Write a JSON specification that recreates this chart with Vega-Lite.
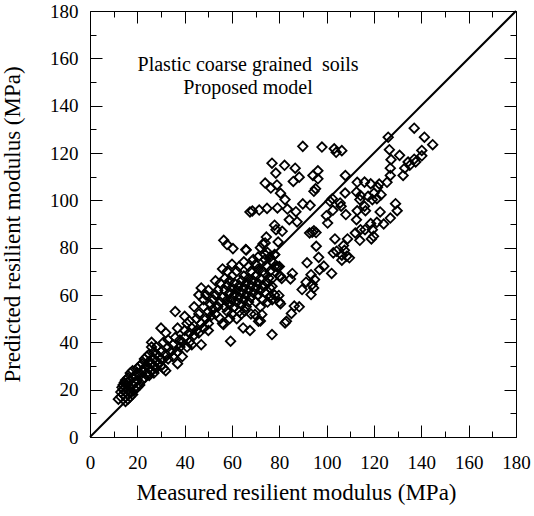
{
"$schema":"https://vega.github.io/schema/vega-lite/v6.json",
"width":426,"height":426,
"autosize":{"type":"none"},
"padding":{"left":90,"top":11,"right":18,"bottom":79},
"config":{"view":{"stroke":null},"font":"Liberation Serif",
"axis":{"grid":false,"domainColor":"black","domainWidth":1,"tickColor":"black","tickWidth":1,"labelColor":"black","titleColor":"black","labelFont":"Liberation Serif","titleFont":"Liberation Serif","labelFontSize":19,"titleFontSize":23,"titleFontWeight":"normal","labelFlush":false,"labelOverlap":false,"labelBound":false}},
"datasets":{
"pts":[
{"m":89.9,"p":122.8},{"m":98.0,"p":122.5},{"m":103.2,"p":121.8},{"m":104,"p":120.3},{"m":106.4,"p":121},{"m":76.9,"p":115.7},{"m":82.2,"p":114.8},{"m":86.7,"p":113.6},{"m":78.5,"p":111.5},{"m":88.4,"p":109.8},{"m":85.9,"p":108},{"m":94.2,"p":110.5},{"m":96.3,"p":112.5},{"m":96.3,"p":109.1},{"m":74,"p":107.3},{"m":76.4,"p":105.2},{"m":79,"p":106.5},{"m":80.5,"p":103},{"m":82.4,"p":100.3},{"m":94.6,"p":103.8},{"m":95.3,"p":104.9},{"m":89.9,"p":98.5},{"m":93,"p":97.9},{"m":107.9,"p":110.5},{"m":67.6,"p":95.1},{"m":68.6,"p":95.5},{"m":71.5,"p":95.9},{"m":74.8,"p":96.6},{"m":79.2,"p":96.8},{"m":83.4,"p":96.3},{"m":87,"p":95.2},{"m":84.2,"p":91.8},{"m":87.5,"p":90.9},{"m":78,"p":89.5},{"m":78.6,"p":87.6},{"m":81.2,"p":86.9},{"m":79.5,"p":82.4},{"m":74.5,"p":84.5},{"m":73.1,"p":81.6},{"m":56.5,"p":83.1},{"m":57.9,"p":81.3},{"m":60.4,"p":79.6},{"m":65.8,"p":79.2},{"m":74,"p":77.1},{"m":78,"p":77.1},
{"m":112.9,"p":107.6},{"m":116,"p":107.7},{"m":118.6,"p":107},{"m":126,"p":126.7},{"m":137,"p":130.5},{"m":141.3,"p":126.7},{"m":144.8,"p":123.5},{"m":126.5,"p":121.4},{"m":130.8,"p":119},{"m":140.2,"p":121.1},{"m":140.2,"p":118.8},{"m":137,"p":117.4},{"m":134.4,"p":116.2},{"m":135.1,"p":114.8},{"m":137.6,"p":116.2},{"m":133,"p":113.6},{"m":132.3,"p":110.5},{"m":127.2,"p":117.2},{"m":126.9,"p":113.6},{"m":126.9,"p":110.5},{"m":125.5,"p":107.6},{"m":122.2,"p":106.9},{"m":121.5,"p":105.5},{"m":120,"p":103.1},{"m":123,"p":102.4},{"m":121.2,"p":100.7},{"m":119.3,"p":100.3},{"m":117.5,"p":101.7},{"m":114.3,"p":102},{"m":112.6,"p":103.5},{"m":114,"p":100.3},{"m":107.8,"p":103.1},{"m":102.4,"p":100.7},{"m":101.4,"p":99.6},{"m":105.7,"p":98.9},{"m":102.6,"p":95.8},{"m":106.1,"p":97.5},{"m":108.1,"p":94},{"m":99.9,"p":93.5},{"m":100.4,"p":90.4},{"m":112.9,"p":95.6},{"m":112.6,"p":91.8},{"m":116.4,"p":95.6},{"m":116,"p":97.5},{"m":118.6,"p":90.2},{"m":121.2,"p":90.7},{"m":124.1,"p":90},{"m":122.6,"p":95.1},{"m":126.9,"p":92.5},{"m":129.1,"p":98.6},{"m":129.8,"p":95.6},{"m":119.3,"p":87.6},{"m":119.8,"p":84.8},{"m":118.9,"p":83.7},{"m":116.2,"p":87.6},{"m":114.3,"p":87.6},{"m":112.1,"p":86.2},{"m":114,"p":83.1},{"m":108.8,"p":83.7},{"m":103.5,"p":83.7},{"m":102.8,"p":77.8},{"m":104.2,"p":78.5},{"m":106.4,"p":76.8},{"m":107.5,"p":78.9},{"m":108.5,"p":76.4},{"m":109.6,"p":75.7},{"m":106.4,"p":74.7},{"m":107.1,"p":80.9},{"m":93.9,"p":86.5},{"m":92.8,"p":86.2},{"m":94.6,"p":87.1},{"m":95.5,"p":86.4},{"m":95.6,"p":80.6},{"m":96.6,"p":75.9},{"m":91.7,"p":73.6},{"m":98.8,"p":72.2},{"m":102.1,"p":69.1},{"m":97,"p":70.7},{"m":93.4,"p":68.6},{"m":94.9,"p":66.5},{"m":93.9,"p":64.4},{"m":91.3,"p":65.4},{"m":94.5,"p":63},{"m":93.4,"p":60.2},{"m":89.6,"p":62.3},{"m":88.4,"p":55},{"m":86.3,"p":55.3},{"m":85.1,"p":52.2},{"m":83,"p":48.9},{"m":82.4,"p":48.2},{"m":85.5,"p":69.1},{"m":84.7,"p":66.8},{"m":80.5,"p":67.9},{"m":79.4,"p":71.7},{"m":79.8,"p":59.8},{"m":80.5,"p":56.3},{"m":76.9,"p":43.3},{"m":76.2,"p":59.5},{"m":76.9,"p":63.7},{"m":75.5,"p":67.2},{"m":67.6,"p":45},{"m":64.7,"p":46.1},{"m":59.4,"p":40.5},{"m":56.4,"p":47.5},{"m":72.6,"p":51.8},{"m":71.2,"p":48.9},{"m":69.7,"p":51.8},{"m":65.4,"p":53.2},
{"m":12,"p":16},{"m":13,"p":17},{"m":13,"p":19},{"m":13.5,"p":21},{"m":14,"p":18},{"m":14,"p":20},{"m":14,"p":22},{"m":14.5,"p":23},{"m":15,"p":15},{"m":15,"p":17},{"m":15,"p":19},{"m":15,"p":21},{"m":15,"p":24},{"m":15.5,"p":22},{"m":16,"p":16},{"m":16,"p":18},{"m":16,"p":20},{"m":16,"p":23},{"m":16,"p":25},{"m":16.5,"p":19},{"m":17,"p":17},{"m":17,"p":21},{"m":17,"p":24},{"m":17,"p":27},{"m":17.5,"p":19},{"m":18,"p":18},{"m":18,"p":22},{"m":18,"p":25},{"m":18,"p":28},{"m":19,"p":20},{"m":19,"p":23},{"m":19,"p":26},{"m":20,"p":21},{"m":20,"p":24},{"m":20,"p":27},{"m":20,"p":29},
{"m":21,"p":22},{"m":21,"p":26},{"m":21,"p":30},{"m":22,"p":24},{"m":22,"p":28},{"m":22,"p":31},{"m":23,"p":25},{"m":23,"p":29},{"m":23,"p":33},{"m":24,"p":27},{"m":24,"p":30},{"m":24,"p":34},{"m":25,"p":26},{"m":25,"p":29},{"m":25,"p":32},{"m":25,"p":35},{"m":26,"p":28},{"m":26,"p":31},{"m":26,"p":38},{"m":26,"p":40},{"m":27,"p":27},{"m":27,"p":30},{"m":27,"p":33},{"m":27,"p":36},{"m":28,"p":29},{"m":28,"p":32},{"m":28,"p":35},{"m":28,"p":38},{"m":29,"p":31},{"m":29,"p":34},{"m":30,"p":30},{"m":30,"p":33},{"m":30,"p":36},{"m":30,"p":46},{"m":31,"p":29},{"m":31,"p":40},{"m":32,"p":28},{"m":32,"p":35},{"m":32,"p":44},{"m":33,"p":33},{"m":33,"p":38},{"m":33,"p":41},
{"m":34,"p":36},{"m":35,"p":34},{"m":35,"p":39},{"m":36,"p":42},{"m":36,"p":53},{"m":37,"p":31},{"m":37,"p":36},{"m":37,"p":46},{"m":38,"p":38},{"m":38,"p":41},{"m":39,"p":34},{"m":39,"p":40},{"m":40,"p":42},{"m":40,"p":51},{"m":40,"p":45},{"m":41,"p":38},{"m":41,"p":48},{"m":42,"p":40},{"m":42,"p":44},{"m":42,"p":49},{"m":43,"p":39},{"m":43,"p":46},{"m":44,"p":43},{"m":44,"p":55},{"m":45,"p":45},{"m":45,"p":50},{"m":46,"p":44},{"m":46,"p":52},{"m":46,"p":60},{"m":47,"p":39},{"m":47,"p":48},{"m":47,"p":63},{"m":48,"p":46},{"m":48,"p":55},{"m":48,"p":58},{"m":49,"p":50},{"m":49,"p":60},{"m":50,"p":48},{"m":50,"p":53},{"m":50,"p":45},{"m":50,"p":62},
{"m":51,"p":51},{"m":51,"p":56},{"m":52,"p":54},{"m":52,"p":58},{"m":53,"p":52},{"m":53,"p":60},{"m":53,"p":66},{"m":54,"p":55},{"m":54,"p":62},{"m":55,"p":57},{"m":55,"p":65},{"m":55,"p":50},{"m":56,"p":48},{"m":56,"p":59},{"m":56,"p":71},{"m":57,"p":55},{"m":57,"p":62},{"m":57,"p":67},{"m":58,"p":53},{"m":58,"p":58},{"m":58,"p":64},{"m":58,"p":70},{"m":59,"p":50},{"m":59,"p":56},{"m":59,"p":61},{"m":59,"p":66},{"m":60,"p":52},{"m":60,"p":58},{"m":60,"p":63},{"m":60,"p":68},{"m":60,"p":73},{"m":61,"p":55},{"m":61,"p":60},{"m":61,"p":65},{"m":62,"p":50},{"m":62,"p":57},{"m":62,"p":62},{"m":62,"p":70},{"m":63,"p":53},{"m":63,"p":59},{"m":63,"p":64},{"m":63,"p":72},{"m":64,"p":56},{"m":64,"p":61},{"m":64,"p":66},{"m":64,"p":52},{"m":65,"p":58},{"m":65,"p":63},{"m":65,"p":68},{"m":65,"p":74},{"m":66,"p":55},{"m":66,"p":60},{"m":66,"p":65},{"m":66,"p":79},
{"m":67,"p":57},{"m":67,"p":62},{"m":67,"p":67},{"m":67,"p":72},{"m":68,"p":59},{"m":68,"p":64},{"m":68,"p":70},{"m":68,"p":52},{"m":69,"p":61},{"m":69,"p":66},{"m":69,"p":75},{"m":70,"p":57},{"m":70,"p":63},{"m":70,"p":68},{"m":70,"p":73},{"m":71,"p":60},{"m":71,"p":65},{"m":71,"p":71},{"m":71,"p":76},{"m":72,"p":49},{"m":72,"p":55},{"m":72,"p":62},{"m":72,"p":67},{"m":72,"p":80},{"m":73,"p":58},{"m":73,"p":64},{"m":73,"p":70},{"m":74,"p":61},{"m":74,"p":69},{"m":74,"p":75},{"m":74,"p":82},{"m":75,"p":57},{"m":75,"p":65},{"m":75,"p":72},{"m":75,"p":78},{"m":76,"p":63},{"m":76,"p":70},{"m":76,"p":76},{"m":77,"p":58},{"m":77,"p":67},{"m":77,"p":74},{"m":78,"p":60},{"m":78,"p":72},{"m":78,"p":77},{"m":79,"p":72},{"m":80,"p":57},{"m":80,"p":68},{"m":80,"p":72},{"m":81,"p":67}
],
"diag":[{"m":0,"p":0},{"m":180,"p":180}]
},
"layer":[
{"data":{"name":"pts"},
"mark":{"type":"point","shape":"diamond","filled":false,"stroke":"black","strokeWidth":1.8,"size":90,"opacity":1},
"encoding":{
"x":{"field":"m","type":"quantitative","scale":{"domain":[0,180],"nice":false,"zero":false},
"axis":{"orient":"bottom","values":[0,20,40,60,80,100,120,140,160,180],"tickSize":-12,"labelPadding":28,"title":"Measured resilient modulus (MPa)","titlePadding":9,"titleX":206}},
"y":{"field":"p","type":"quantitative","scale":{"domain":[0,180],"nice":false,"zero":false},
"axis":{"orient":"left","values":[0,20,40,60,80,100,120,140,160,180],"tickSize":-12,"labelPadding":24,"title":"Predicted resilient modulus (MPa)","titlePadding":25}}
}},
{"data":{"name":"diag"},
"mark":{"type":"line","color":"black","strokeWidth":2},
"encoding":{
"x":{"field":"m","type":"quantitative","axis":{"orient":"top","values":[0,20,40,60,80,100,120,140,160,180],"labels":false,"title":null,"tickSize":-12}},
"y":{"field":"p","type":"quantitative","axis":{"orient":"right","values":[0,20,40,60,80,100,120,140,160,180],"labels":false,"title":null,"tickSize":-12}}
}},
{"data":{"name":"diag"},
"mark":{"type":"line","color":"black","strokeOpacity":0},
"encoding":{
"x":{"field":"m","type":"quantitative","axis":{"orient":"bottom","values":[10,30,50,70,90,110,130,150,170],"labels":false,"title":null,"domain":false,"tickSize":-6}},
"y":{"field":"p","type":"quantitative","axis":{"orient":"left","values":[10,30,50,70,90,110,130,150,170],"labels":false,"title":null,"domain":false,"tickSize":-6}}
}},
{"data":{"name":"diag"},
"mark":{"type":"line","color":"black","strokeOpacity":0},
"encoding":{
"x":{"field":"m","type":"quantitative","axis":{"orient":"top","values":[10,30,50,70,90,110,130,150,170],"labels":false,"title":null,"domain":false,"tickSize":-6}},
"y":{"field":"p","type":"quantitative","axis":{"orient":"right","values":[10,30,50,70,90,110,130,150,170],"labels":false,"title":null,"domain":false,"tickSize":-6}}
}},
{"data":{"values":[{}]},
"mark":{"type":"text","font":"Liberation Serif","fontSize":20,"color":"black","align":"center","baseline":"middle","lineHeight":23},
"encoding":{
"x":{"datum":66.8,"type":"quantitative","axis":null},
"y":{"datum":157,"type":"quantitative","axis":null},
"text":{"value":["Plastic coarse grained\u00a0 soils","Proposed model"]}
}}
],
"resolve":{"axis":{"x":"independent","y":"independent"}}
}
